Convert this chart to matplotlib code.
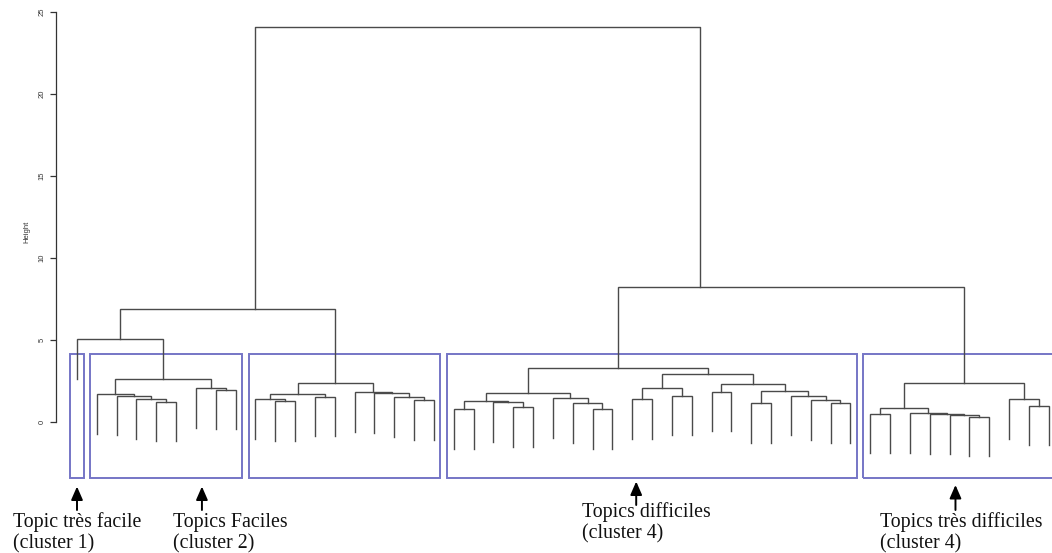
import matplotlib
matplotlib.use("Agg")
import matplotlib.pyplot as plt

# dendrogram: leaves are numbered 0..49 in plotting order, internal nodes are (height, left, right)
cluster1 = 0
cluster2 = (2.62, (1.69, 1, (1.61, 2, (1.38, 3, (1.24, 4, 5)))), (2.05, 6, (1.98, 7, 8)))
cluster3 = (2.36, (1.71, (1.38, 9, (1.28, 10, 11)), (1.54, 12, 13)),
            (1.81, 14, (1.75, 15, (1.51, 16, (1.34, 17, 18)))))
cluster4_left = (1.75, (1.30, (0.77, 19, 20), (1.20, 21, (0.90, 22, 23))),
                 (1.44, 24, (1.14, 25, (0.77, 26, 27))))
cluster4_right = (2.91, (2.05, (1.38, 28, 29), (1.61, 30, 31)),
                  (2.32, (1.85, 32, 33), (1.91, (1.14, 34, 35), (1.61, 36, (1.34, 37, (1.14, 38, 39))))))
cluster4 = (3.27, cluster4_left, cluster4_right)
cluster5 = (2.36, (0.83, (0.49, 40, 41), (0.53, 42, (0.47, 43, (0.43, 44, (0.33, 45, 46))))),
            (1.38, 47, (0.98, 48, 49)))

easy_side = (6.89, (5.06, cluster1, cluster2), cluster3)
hard_side = (8.23, cluster4, cluster5)
root_height = 24.1
root_join_x = [9.0, 31.4]   # where the root branches meet its two children (leaf units)

cluster_leaves = [(0, 0), (1, 8), (9, 18), (19, 39), (40, 49)]
box_top = (5.06 + 3.27) / 2
hang = 0.1 * root_height

labels = ["Topic très facile\n(cluster 1)", "Topics Faciles\n(cluster 2)",
          "Topics difficiles\n(cluster 4)", "Topics très difficiles\n(cluster 4)"]
arrow_x = [0.0, 6.3, 28.2, 44.3]
label_x = [-3.24, 4.86, 25.45, 40.5]
# pixel rows of the annotation parts (below the axis range)
arrow_tip_px = [486.5, 486.5, 481.5, 485]
arrow_tail_px = [510, 510, 505, 510]
label_top_px = [512, 513, 502, 512]

LINE = "#4a4a4a"
BOX = "#7575c6"


def px2h(py):
    return (422 - py) / 16.4


fig = plt.figure(figsize=(10.52, 5.53), dpi=100)
ax = fig.add_axes([0, 0, 1, 1])
ax.set_xlim(-77 / 19.83, (1052 - 77) / 19.83)
ax.set_ylim(px2h(553), px2h(0))


def draw(node):
    """draw a subtree, return its anchor (x, y) like R's plot.hclust"""
    if not isinstance(node, tuple):
        return float(node), None
    h, left, right = node
    xl, yl = draw(left)
    xr, yr = draw(right)
    yl = h - hang if yl is None else yl
    yr = h - hang if yr is None else yr
    ax.plot([xl, xl, xr, xr], [yl, h, h, yr], color=LINE, lw=1.0, solid_joinstyle="miter")
    return 0.5 * (xl + xr), h


draw(easy_side)
draw(hard_side)
xl, xr = root_join_x
ax.plot([xl, xl, xr, xr], [easy_side[0], root_height, root_height, hard_side[0]],
        color=LINE, lw=1.0)

# rect.hclust style boxes
ybot = px2h(478.3)
for first, last in cluster_leaves:
    ax.add_patch(plt.Rectangle((first - 0.34, ybot), last - first + 0.67, box_top - ybot,
                               fill=False, ec=BOX, lw=1.4, clip_on=True))

# y axis, R style
for s in ["top", "right", "bottom"]:
    ax.spines[s].set_visible(False)
ax.spines["left"].set_position(("data", (56 - 77) / 19.83))
ax.spines["left"].set_bounds(0, 25)
ax.spines["left"].set_color("#333333")
ax.spines["left"].set_linewidth(0.9)
ax.set_yticks([0, 5, 10, 15, 20, 25])
ax.set_yticklabels(["0", "5", "10", "15", "20", "25"], rotation=90, va="center",
                   fontsize=5.5, family="Liberation Sans", color="#333333")
ax.tick_params(axis="y", length=4, width=0.9, color="#333333", pad=3.5)
ax.set_xticks([])
ax.text((27 - 77) / 19.83, px2h(232), "Height", rotation=90, ha="center", va="center",
        fontsize=5.5, family="Liberation Sans", color="#333333")

# arrows and captions under the clusters
for i, lab in enumerate(labels):
    ax.annotate("", xy=(arrow_x[i], px2h(arrow_tip_px[i])),
                xytext=(arrow_x[i], px2h(arrow_tail_px[i])),
                arrowprops=dict(arrowstyle="-|>,head_length=0.8,head_width=0.35",
                                color="black", lw=1.4, shrinkA=0, shrinkB=0))
    ax.text(label_x[i], px2h(label_top_px[i]), lab, ha="left", va="top", fontsize=14.3,
            family="Liberation Serif", color="#111111", linespacing=1.13)

fig.savefig("out.png", dpi=100)
